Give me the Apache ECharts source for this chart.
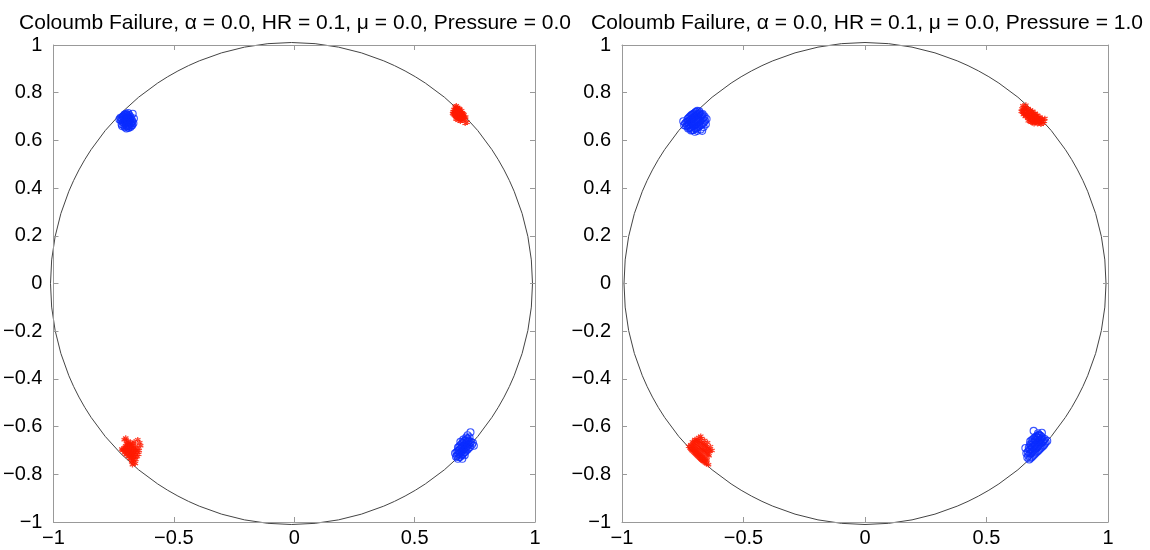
<!DOCTYPE html>
<html><head><meta charset="utf-8">
<script src="https://cdn.jsdelivr.net/npm/echarts@6/dist/echarts.min.js"></script>
<style>html,body{margin:0;padding:0;background:#fff}#c{width:1150px;height:550px}</style>
</head><body><div id="c"></div>
<script>
const titles = [
  'Coloumb Failure, \u03b1 = 0.0, HR = 0.1, \u03bc = 0.0, Pressure = 0.0',
  'Coloumb Failure, \u03b1 = 0.0, HR = 0.1, \u03bc = 0.0, Pressure = 1.0'
];
const xTicks = [-1, -0.5, 0, 0.5, 1];
const yTicks = [-1, -0.8, -0.6, -0.4, -0.2, 0, 0.2, 0.4, 0.6, 0.8, 1];

// Left panel (Pressure = 0.0)
const L_blueTL = [[-0.712,0.700],[-0.705,0.708],[-0.698,0.712],[-0.690,0.715],[-0.716,0.692],[-0.720,0.684],[-0.708,0.690],[-0.700,0.696],[-0.692,0.702],[-0.685,0.706],[-0.712,0.676],[-0.704,0.680],[-0.696,0.686],[-0.688,0.692],[-0.680,0.698],[-0.709,0.664],[-0.700,0.668],[-0.692,0.674],[-0.684,0.680],[-0.676,0.688],[-0.703,0.655],[-0.694,0.658],[-0.686,0.662],[-0.678,0.670],[-0.672,0.680],[-0.697,0.650],[-0.688,0.652],[-0.680,0.656],[-0.673,0.664],[-0.668,0.672],[-0.722,0.695],[-0.726,0.688],[-0.717,0.668],[-0.694,0.694],[-0.702,0.674],[-0.683,0.690],[-0.690,0.660],[-0.666,0.692],[-0.671,0.712],[-0.715,0.660],
  [-0.708,0.702],[-0.700,0.706],[-0.694,0.708],[-0.704,0.686],[-0.696,0.692],[-0.688,0.698],[-0.706,0.672],[-0.698,0.676],[-0.690,0.682],[-0.682,0.686],[-0.698,0.660],[-0.690,0.666],[-0.682,0.672],[-0.675,0.676],[-0.684,0.658],[-0.676,0.662],[-0.714,0.684],[-0.710,0.696],[-0.702,0.700],[-0.692,0.688]];
const L_redTR = [[0.668,0.740],[0.675,0.735],[0.683,0.728],[0.690,0.722],[0.698,0.716],[0.705,0.708],[0.663,0.730],[0.670,0.726],[0.678,0.720],[0.686,0.714],[0.694,0.708],[0.701,0.700],[0.660,0.720],[0.667,0.716],[0.675,0.711],[0.683,0.705],[0.691,0.699],[0.698,0.692],[0.662,0.708],[0.670,0.702],[0.678,0.697],[0.686,0.692],[0.694,0.686],[0.672,0.690],[0.681,0.684],[0.690,0.680],[0.700,0.684],[0.708,0.690],[0.712,0.698],[0.665,0.722],[0.673,0.745],[0.658,0.713],[0.710,0.672],[0.718,0.676],[0.688,0.730],[0.695,0.725],[0.702,0.712],[0.677,0.706],[0.684,0.697],[0.668,0.712],
  [0.672,0.730],[0.680,0.724],[0.688,0.718],[0.696,0.712],[0.674,0.716],[0.682,0.712],[0.690,0.706],[0.698,0.700],[0.666,0.704],[0.674,0.698],[0.682,0.692],[0.690,0.688],[0.704,0.696],[0.679,0.738],[0.686,0.734]];
const L_redBL = [[-0.712,-0.700],[-0.705,-0.710],[-0.698,-0.718],[-0.690,-0.726],[-0.682,-0.734],[-0.674,-0.742],[-0.666,-0.750],[-0.706,-0.690],[-0.698,-0.698],[-0.690,-0.706],[-0.682,-0.714],[-0.674,-0.722],[-0.666,-0.730],[-0.658,-0.738],[-0.700,-0.680],[-0.692,-0.686],[-0.684,-0.694],[-0.676,-0.702],[-0.668,-0.710],[-0.660,-0.718],[-0.652,-0.726],[-0.694,-0.672],[-0.685,-0.676],[-0.676,-0.684],[-0.668,-0.692],[-0.660,-0.700],[-0.652,-0.708],[-0.646,-0.716],[-0.680,-0.668],[-0.670,-0.672],[-0.660,-0.680],[-0.650,-0.690],[-0.706,-0.655],[-0.700,-0.648],[-0.690,-0.660],[-0.650,-0.655],[-0.642,-0.668],[-0.638,-0.680],[-0.660,-0.755],[-0.672,-0.760],[-0.716,-0.694],[-0.644,-0.700],
  [-0.708,-0.696],[-0.700,-0.705],[-0.692,-0.714],[-0.684,-0.722],[-0.676,-0.730],[-0.668,-0.738],[-0.702,-0.686],[-0.694,-0.692],[-0.686,-0.700],[-0.678,-0.708],[-0.670,-0.716],[-0.662,-0.724],[-0.690,-0.676],[-0.680,-0.680],[-0.672,-0.688],[-0.664,-0.696],[-0.656,-0.704],[-0.675,-0.748],[-0.696,-0.664],[-0.665,-0.664]];
const L_blueBR = [[0.680,-0.735],[0.690,-0.726],[0.700,-0.716],[0.710,-0.706],[0.720,-0.696],[0.730,-0.686],[0.738,-0.676],[0.676,-0.722],[0.686,-0.714],[0.696,-0.704],[0.706,-0.694],[0.716,-0.684],[0.726,-0.674],[0.734,-0.664],[0.674,-0.708],[0.684,-0.700],[0.694,-0.690],[0.704,-0.680],[0.714,-0.670],[0.724,-0.660],[0.680,-0.688],[0.690,-0.678],[0.700,-0.668],[0.710,-0.658],[0.720,-0.650],[0.690,-0.664],[0.702,-0.654],[0.714,-0.646],[0.732,-0.624],[0.720,-0.636],[0.668,-0.712],[0.672,-0.726],[0.742,-0.668],[0.746,-0.680],[0.708,-0.720],[0.698,-0.735],[0.728,-0.645],
  [0.685,-0.728],[0.695,-0.720],[0.705,-0.710],[0.715,-0.700],[0.725,-0.690],[0.681,-0.716],[0.691,-0.708],[0.701,-0.698],[0.711,-0.688],[0.721,-0.678],[0.731,-0.670],[0.679,-0.702],[0.689,-0.694],[0.699,-0.684],[0.709,-0.674],[0.719,-0.664],[0.685,-0.684],[0.695,-0.672],[0.705,-0.662],[0.715,-0.654]];

// Right panel (Pressure = 1.0)
const R_blueTL = [[-0.730,0.690],[-0.722,0.698],[-0.714,0.706],[-0.706,0.712],[-0.698,0.718],[-0.690,0.724],[-0.740,0.672],[-0.730,0.678],[-0.720,0.686],[-0.710,0.694],[-0.700,0.702],[-0.690,0.708],[-0.680,0.714],[-0.736,0.660],[-0.726,0.664],[-0.716,0.672],[-0.706,0.680],[-0.696,0.688],[-0.686,0.696],[-0.676,0.704],[-0.668,0.710],[-0.728,0.650],[-0.718,0.654],[-0.708,0.660],[-0.698,0.668],[-0.688,0.676],[-0.678,0.684],[-0.668,0.692],[-0.660,0.700],[-0.716,0.642],[-0.706,0.644],[-0.696,0.648],[-0.686,0.656],[-0.676,0.664],[-0.666,0.672],[-0.658,0.682],[-0.690,0.640],[-0.676,0.646],[-0.664,0.656],[-0.655,0.668],[-0.748,0.680],[-0.744,0.664],[-0.700,0.636],[-0.670,0.640],[-0.652,0.690],[-0.682,0.722],
  [-0.726,0.694],[-0.718,0.702],[-0.710,0.708],[-0.702,0.714],[-0.694,0.720],[-0.735,0.676],[-0.725,0.682],[-0.715,0.690],[-0.705,0.698],[-0.695,0.705],[-0.685,0.711],[-0.731,0.662],[-0.721,0.668],[-0.711,0.676],[-0.701,0.684],[-0.691,0.692],[-0.681,0.700],[-0.672,0.707],[-0.723,0.652],[-0.713,0.657],[-0.703,0.664],[-0.693,0.672],[-0.683,0.680],[-0.673,0.688],[-0.664,0.696],[-0.711,0.644],[-0.701,0.652],[-0.691,0.652],[-0.681,0.660],[-0.671,0.668],[-0.662,0.677]];
const R_redTR = [[0.650,0.745],[0.660,0.740],[0.670,0.734],[0.680,0.728],[0.690,0.722],[0.700,0.714],[0.710,0.706],[0.720,0.698],[0.730,0.690],[0.738,0.680],[0.646,0.732],[0.656,0.728],[0.666,0.722],[0.676,0.716],[0.686,0.710],[0.696,0.703],[0.706,0.696],[0.716,0.688],[0.726,0.680],[0.734,0.672],[0.648,0.718],[0.658,0.714],[0.668,0.708],[0.678,0.702],[0.688,0.696],[0.698,0.690],[0.708,0.684],[0.718,0.676],[0.660,0.700],[0.670,0.694],[0.680,0.688],[0.690,0.682],[0.700,0.676],[0.710,0.670],[0.672,0.682],[0.684,0.676],[0.696,0.670],[0.652,0.708],[0.643,0.722],[0.724,0.668],[0.662,0.748],[0.740,0.692],
  [0.655,0.736],[0.665,0.731],[0.675,0.725],[0.685,0.719],[0.695,0.712],[0.705,0.705],[0.715,0.697],[0.725,0.689],[0.652,0.722],[0.662,0.718],[0.672,0.712],[0.682,0.706],[0.692,0.700],[0.702,0.693],[0.712,0.686],[0.722,0.678],[0.654,0.712],[0.664,0.704],[0.674,0.698],[0.684,0.692],[0.694,0.686],[0.704,0.680],[0.714,0.674],[0.678,0.680],[0.690,0.674]];
const R_redBL = [[-0.720,-0.690],[-0.712,-0.700],[-0.704,-0.708],[-0.696,-0.716],[-0.688,-0.724],[-0.680,-0.732],[-0.672,-0.740],[-0.662,-0.748],[-0.652,-0.756],[-0.716,-0.676],[-0.708,-0.684],[-0.700,-0.692],[-0.692,-0.700],[-0.684,-0.708],[-0.676,-0.716],[-0.668,-0.724],[-0.660,-0.732],[-0.650,-0.740],[-0.710,-0.664],[-0.700,-0.670],[-0.690,-0.678],[-0.680,-0.686],[-0.670,-0.694],[-0.660,-0.702],[-0.650,-0.712],[-0.642,-0.722],[-0.700,-0.654],[-0.690,-0.658],[-0.680,-0.664],[-0.668,-0.672],[-0.658,-0.680],[-0.648,-0.690],[-0.638,-0.702],[-0.684,-0.646],[-0.672,-0.650],[-0.660,-0.658],[-0.648,-0.668],[-0.636,-0.684],[-0.676,-0.640],[-0.630,-0.700],[-0.726,-0.682],[-0.644,-0.760],
  [-0.716,-0.695],[-0.708,-0.704],[-0.700,-0.712],[-0.692,-0.720],[-0.684,-0.728],[-0.676,-0.736],[-0.667,-0.744],[-0.657,-0.752],[-0.712,-0.680],[-0.704,-0.688],[-0.696,-0.696],[-0.688,-0.704],[-0.680,-0.712],[-0.672,-0.720],[-0.664,-0.728],[-0.655,-0.736],[-0.705,-0.667],[-0.695,-0.674],[-0.685,-0.682],[-0.675,-0.690],[-0.665,-0.698],[-0.655,-0.707],[-0.646,-0.716],[-0.695,-0.656],[-0.685,-0.661],[-0.674,-0.668],[-0.663,-0.676],[-0.653,-0.685],[-0.643,-0.696]];
const R_blueBR = [[0.676,-0.738],[0.686,-0.728],[0.696,-0.718],[0.706,-0.708],[0.716,-0.698],[0.726,-0.688],[0.736,-0.678],[0.744,-0.666],[0.672,-0.722],[0.682,-0.712],[0.692,-0.702],[0.702,-0.692],[0.712,-0.682],[0.722,-0.672],[0.732,-0.662],[0.740,-0.652],[0.670,-0.706],[0.680,-0.696],[0.690,-0.686],[0.700,-0.676],[0.710,-0.666],[0.720,-0.656],[0.730,-0.646],[0.674,-0.688],[0.684,-0.678],[0.694,-0.668],[0.704,-0.658],[0.714,-0.648],[0.724,-0.640],[0.680,-0.662],[0.692,-0.652],[0.704,-0.642],[0.716,-0.634],[0.694,-0.618],[0.728,-0.626],[0.660,-0.690],[0.664,-0.712],[0.750,-0.660],[0.668,-0.730],[0.712,-0.628],
  [0.681,-0.733],[0.691,-0.723],[0.701,-0.713],[0.711,-0.703],[0.721,-0.693],[0.731,-0.683],[0.740,-0.672],[0.677,-0.714],[0.687,-0.707],[0.697,-0.697],[0.707,-0.687],[0.717,-0.677],[0.727,-0.667],[0.736,-0.657],[0.675,-0.697],[0.685,-0.691],[0.695,-0.681],[0.705,-0.671],[0.715,-0.661],[0.725,-0.651],[0.679,-0.675],[0.689,-0.665],[0.699,-0.655],[0.709,-0.645],[0.719,-0.637],[0.686,-0.657],[0.698,-0.647],[0.710,-0.638]];

const BLUE = '#0a2cff', RED = '#ff1a00';
const FONT = 'Liberation Sans, Arial, Helvetica, sans-serif';
const fmt = v => String(v).replace('-', '\u2212');
const grids = [
  {left: 48, top: 45, width: 487, height: 477},
  {left: 622, top: 45, width: 486, height: 477}
];
const titleCenters = [290, 862];
const AX = '#999';
const xAxes = [], yAxes = [];
grids.forEach((g, i) => {
  const base = {min: -1, max: 1, gridIndex: i, splitLine: {show: false},
    axisLine: {show: true, onZero: false, lineStyle: {color: AX, width: 1}},
    axisTick: {show: true, inside: true, length: 5, lineStyle: {color: AX}}};
  xAxes.push(Object.assign({}, base, {type: 'value', position: 'bottom', interval: 0.5,
    axisLabel: {color: '#000', fontSize: 20, fontFamily: FONT, margin: 6, formatter: fmt}}));
  xAxes.push(Object.assign({}, base, {type: 'value', position: 'top', interval: 0.5, axisLabel: {show: false}}));
  yAxes.push(Object.assign({}, base, {type: 'value', position: 'left', interval: 0.2,
    axisLabel: {color: '#000', fontSize: 20, fontFamily: FONT, margin: 11, formatter: v => fmt(Math.round(v * 10) / 10)}}));
  yAxes.push(Object.assign({}, base, {type: 'value', position: 'right', interval: 0.2, axisLabel: {show: false}}));
});
const polars = grids.map(g => ({center: [g.left + g.width / 2, g.top + g.height / 2], radius: 241}));
const angleAxes = polars.map((p, i) => ({polarIndex: i, type: 'value', min: 0, max: 360,
  axisLine: {show: true, lineStyle: {color: '#444', width: 1}}, axisTick: {show: false},
  axisLabel: {show: false}, splitLine: {show: false}}));
const radiusAxes = polars.map((p, i) => ({polarIndex: i, type: 'value', min: 0, max: 1, show: false,
  axisLine: {show: false}, axisTick: {show: false}, axisLabel: {show: false}, splitLine: {show: false}}));

const STAR = 'path://M0,-5L0,5M-4.33,-2.5L4.33,2.5M-4.33,2.5L4.33,-2.5';
function blue(data, i) {
  return {type: 'scatter', xAxisIndex: 2 * i, yAxisIndex: 2 * i, data, symbol: 'circle', symbolSize: 7,
    itemStyle: {color: 'rgba(0,0,0,0)', borderColor: BLUE, borderWidth: 1.1}, silent: true, z: 3};
}
function red(data, i) {
  return {type: 'scatter', xAxisIndex: 2 * i, yAxisIndex: 2 * i, data, symbol: STAR, symbolSize: 5.5,
    itemStyle: {color: 'none', borderColor: RED, borderWidth: 1.3}, silent: true, z: 3};
}
const chart = echarts.init(document.getElementById('c'), null, {renderer: 'canvas'});
chart.setOption({
  animation: false,
  backgroundColor: '#fff',
  title: titles.map((t, i) => ({text: t, left: titleCenters[i], top: 8, textAlign: 'center',
    textStyle: {color: '#000', fontSize: 21, fontWeight: 'normal', fontFamily: FONT}})),
  grid: grids,
  xAxis: xAxes,
  yAxis: yAxes,
  polar: polars,
  angleAxis: angleAxes,
  radiusAxis: radiusAxes,
  series: [
    {type: 'scatter', coordinateSystem: 'polar', polarIndex: 0, data: [], silent: true},
    {type: 'scatter', coordinateSystem: 'polar', polarIndex: 1, data: [], silent: true},
    blue(L_blueTL, 0), red(L_redTR, 0), red(L_redBL, 0), blue(L_blueBR, 0),
    blue(R_blueTL, 1), red(R_redTR, 1), red(R_redBL, 1), blue(R_blueBR, 1)
  ]
});
</script></body></html>
